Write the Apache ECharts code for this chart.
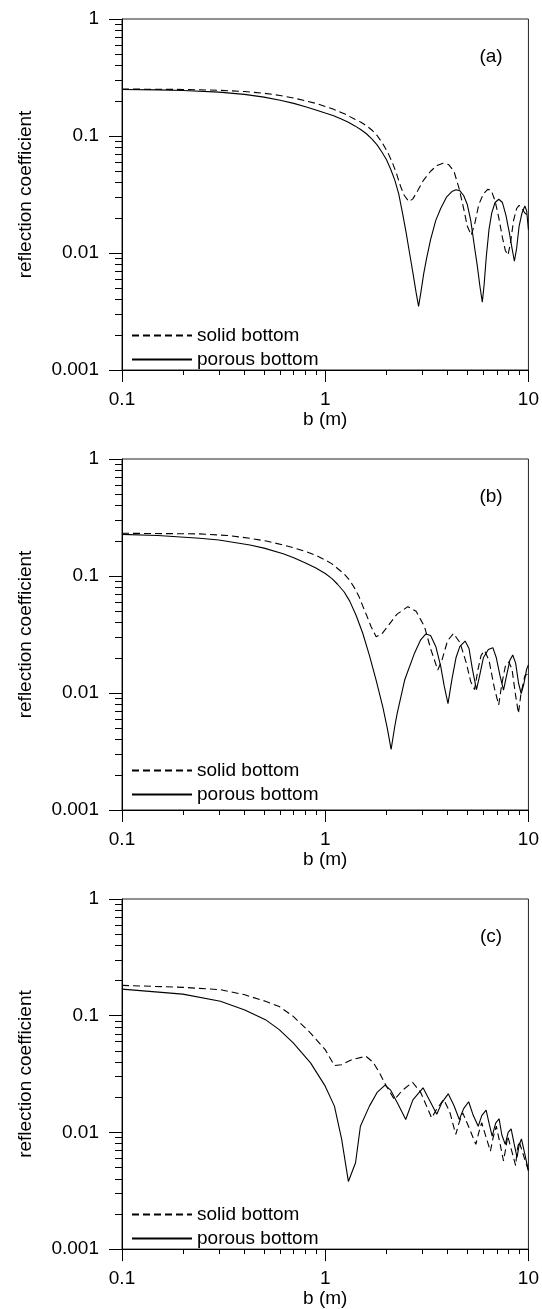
<!DOCTYPE html>
<html>
<head>
<meta charset="utf-8">
<script src="https://cdn.jsdelivr.net/npm/echarts@6/dist/echarts.min.js"></script>
<style>
html,body{margin:0;padding:0;background:#fff;}
#chart{width:542px;height:1309px;}
</style>
</head>
<body>
<div id="chart"></div>
<script>
// ---- tick values and labels ----
const xTickValues = [0.1, 1, 10];
const xTickLabels = ['0.1', '1', '10'];
const yTickValues = [0.001, 0.01, 0.1, 1];
const yTickLabels = ['0.001', '0.01', '0.1', '1'];
const xMinorTicks = [0.2,0.3,0.4,0.5,0.6,0.7,0.8,0.9,2,3,4,5,6,7,8,9];
const yMinorTicks = [0.002,0.003,0.004,0.005,0.006,0.007,0.008,0.009,
                     0.02,0.03,0.04,0.05,0.06,0.07,0.08,0.09,
                     0.2,0.3,0.4,0.5,0.6,0.7,0.8,0.9];
const panelLabels = ['(a)', '(b)', '(c)'];
const seriesNames = ['solid bottom', 'porous bottom'];
const xName = 'b (m)';
const yName = 'reflection coefficient';

// ---- data: [b (m), reflection coefficient] ----
const aSolidBottom = [[0.1,0.252],[0.2,0.25],[0.3,0.246],[0.4,0.24],[0.5,0.232],[0.6,0.222],[0.7,0.211],[0.8,0.2],[0.9,0.19],[1.0,0.179],[1.1,0.169],[1.25,0.154],[1.4,0.139],[1.5,0.131],[1.6,0.122],[1.7,0.112],[1.8,0.101],[1.92,0.086],[2.05,0.07],[2.15,0.058],[2.24,0.048],[2.35,0.037],[2.45,0.031],[2.58,0.0275],[2.7,0.029],[2.85,0.034],[3.05,0.042],[3.3,0.05],[3.55,0.056],[3.8,0.0585],[4.05,0.057],[4.3,0.05],[4.55,0.036],[4.8,0.024],[5.0,0.017],[5.23,0.0142],[5.45,0.018],[5.7,0.026],[6.0,0.032],[6.3,0.035],[6.55,0.0345],[6.85,0.028],[7.15,0.02],[7.45,0.0135],[7.7,0.0105],[7.93,0.0096],[8.15,0.012],[8.45,0.019],[8.75,0.024],[9.0,0.0255],[9.3,0.024],[9.6,0.022],[10,0.0205]];
const aPorousBottom = [[0.1,0.25],[0.15,0.248],[0.2,0.245],[0.3,0.237],[0.4,0.227],[0.5,0.215],[0.6,0.202],[0.7,0.19],[0.8,0.178],[0.9,0.167],[1.0,0.157],[1.1,0.149],[1.2,0.14],[1.3,0.131],[1.4,0.122],[1.5,0.113],[1.6,0.104],[1.7,0.094],[1.8,0.084],[1.9,0.073],[2.0,0.063],[2.1,0.052],[2.2,0.042],[2.3,0.032],[2.4,0.022],[2.5,0.015],[2.6,0.01],[2.7,0.0068],[2.8,0.0046],[2.88,0.0035],[2.95,0.0045],[3.05,0.0066],[3.15,0.0089],[3.3,0.013],[3.5,0.019],[3.7,0.024],[3.95,0.03],[4.2,0.0335],[4.4,0.0347],[4.6,0.034],[4.8,0.031],[5.0,0.026],[5.2,0.019],[5.4,0.012],[5.6,0.0078],[5.78,0.0051],[5.93,0.0038],[6.05,0.0053],[6.2,0.0092],[6.4,0.016],[6.6,0.022],[6.85,0.027],[7.15,0.0288],[7.45,0.027],[7.75,0.021],[8.05,0.015],[8.3,0.011],[8.53,0.0085],[8.75,0.011],[9.0,0.017],[9.3,0.022],[9.6,0.0252],[9.8,0.023],[10,0.0158]];
const bSolidBottom = [[0.1,0.232],[0.241,0.229],[0.33,0.222],[0.426,0.21],[0.52,0.198],[0.621,0.184],[0.7,0.174],[0.8,0.162],[0.9,0.15],[1.0,0.137],[1.08,0.127],[1.15,0.116],[1.24,0.104],[1.32,0.092],[1.4,0.078],[1.47,0.066],[1.53,0.0555],[1.6,0.046],[1.68,0.037],[1.78,0.0303],[1.9,0.032],[2.05,0.038],[2.25,0.047],[2.55,0.0547],[2.8,0.05],[3.08,0.0369],[3.3,0.024],[3.58,0.0157],[3.75,0.019],[4.0,0.028],[4.28,0.0323],[4.6,0.027],[4.95,0.018],[5.2,0.0125],[5.43,0.0107],[5.65,0.016],[5.85,0.021],[6.08,0.023],[6.4,0.019],[6.8,0.011],[7.14,0.0079],[7.4,0.012],[7.7,0.017],[8.0,0.0185],[8.3,0.016],[8.65,0.0095],[8.93,0.0067],[9.2,0.01],[9.6,0.014],[10,0.0147]];
const bPorousBottom = [[0.1,0.227],[0.15,0.222],[0.241,0.21],[0.3,0.203],[0.426,0.184],[0.5,0.173],[0.621,0.155],[0.7,0.143],[0.8,0.129],[0.9,0.117],[1.0,0.105],[1.08,0.095],[1.15,0.085],[1.24,0.073],[1.32,0.061],[1.42,0.046],[1.53,0.0324],[1.65,0.021],[1.78,0.0129],[1.92,0.0076],[2.02,0.005],[2.11,0.0033],[2.2,0.0052],[2.26,0.0067],[2.46,0.0129],[2.75,0.0219],[2.95,0.0285],[3.12,0.0319],[3.3,0.031],[3.5,0.025],[3.7,0.017],[3.85,0.0115],[4.02,0.0081],[4.2,0.013],[4.4,0.02],[4.6,0.025],[4.88,0.0278],[5.1,0.024],[5.3,0.016],[5.55,0.0107],[5.75,0.014],[6.0,0.02],[6.35,0.0235],[6.68,0.0244],[6.95,0.02],[7.25,0.014],[7.54,0.0106],[7.8,0.014],[8.1,0.019],[8.37,0.0211],[8.65,0.018],[8.95,0.012],[9.21,0.0099],[9.5,0.012],[9.8,0.016],[10,0.0174]];
const cSolidBottom = [[0.1,0.182],[0.199,0.175],[0.305,0.167],[0.402,0.151],[0.508,0.133],[0.594,0.12],[0.696,0.0987],[0.847,0.071],[1.0,0.0512],[1.11,0.0374],[1.2,0.038],[1.35,0.042],[1.585,0.0449],[1.72,0.04],[1.85,0.0324],[2.0,0.0249],[2.19,0.0191],[2.4,0.023],[2.69,0.0269],[2.95,0.022],[3.34,0.0133],[3.55,0.016],[3.83,0.0191],[4.1,0.015],[4.39,0.0096],[4.55,0.012],[4.75,0.0147],[5.1,0.011],[5.51,0.0079],[5.7,0.01],[5.89,0.0121],[6.2,0.009],[6.5,0.0069],[6.7,0.009],[6.95,0.0113],[7.25,0.008],[7.54,0.0057],[7.7,0.007],[7.91,0.0093],[8.3,0.0068],[8.65,0.0052],[8.8,0.007],[8.99,0.0084],[9.5,0.0062],[10,0.0047]];
const cPorousBottom = [[0.1,0.169],[0.199,0.153],[0.305,0.133],[0.402,0.112],[0.508,0.0925],[0.594,0.076],[0.696,0.0584],[0.847,0.0394],[1.0,0.0249],[1.11,0.0168],[1.205,0.0087],[1.3,0.0038],[1.41,0.0055],[1.49,0.0113],[1.65,0.0168],[1.8,0.022],[1.97,0.0254],[2.1,0.023],[2.3,0.017],[2.49,0.0129],[2.7,0.019],[3.03,0.0241],[3.25,0.019],[3.54,0.0143],[3.75,0.018],[4.03,0.0214],[4.3,0.017],[4.57,0.0129],[4.8,0.016],[5.08,0.0183],[5.35,0.014],[5.66,0.0113],[5.9,0.014],[6.19,0.0155],[6.4,0.012],[6.63,0.0093],[6.9,0.012],[7.17,0.0131],[7.4,0.0095],[7.69,0.0079],[7.95,0.01],[8.22,0.0107],[8.5,0.008],[8.79,0.0061],[9.0,0.0078],[9.24,0.0088],[9.6,0.0065],[10,0.0047]];

const panels = [
  {label: panelLabels[0], solid: aSolidBottom, porous: aPorousBottom},
  {label: panelLabels[1], solid: bSolidBottom, porous: bPorousBottom},
  {label: panelLabels[2], solid: cSolidBottom, porous: cPorousBottom}
];

// ---- layout ----
const FONT = '"Liberation Sans", Arial, sans-serif';
const gridTops = [19, 459, 899];
const legendTops = [326, 761, 1205];
const GL = 122, GW = 407, GH = 351;

function labelFor(values, labels) {
  return function (v) {
    let best = 0, bd = Infinity;
    values.forEach(function (t, i) {
      const d = Math.abs(Math.log10(v) - Math.log10(t));
      if (d < bd) { bd = d; best = i; }
    });
    return labels[best];
  };
}

const grid = [], xAxis = [], yAxis = [], series = [], legend = [], title = [];
panels.forEach(function (p, k) {
  grid.push({left: GL, top: gridTops[k], width: GW, height: GH, show: true,
    borderColor: '#222', borderWidth: 1, backgroundColor: 'transparent'});
  title.push({text: p.label, left: 491, top: gridTops[k] + 28, textAlign: 'center', padding: 0,
    textStyle: {fontFamily: FONT, fontSize: 19, fontWeight: 'normal', color: '#000'}});
  legend.push({orient: 'vertical', left: 131, top: legendTops[k], padding: 0,
    itemWidth: 60, itemHeight: 14, itemGap: 5,
    itemStyle: {opacity: 0},
    data: seriesNames,
    textStyle: {fontFamily: FONT, fontSize: 19, color: '#000'}});
});
// main axes
panels.forEach(function (p, k) {
  xAxis.push({type: 'log', logBase: 10, gridIndex: k, min: 0.1, max: 10,
    name: xName, nameLocation: 'middle', nameGap: 30,
    nameTextStyle: {fontFamily: FONT, fontSize: 19, color: '#000'},
    axisLine: {show: true, lineStyle: {color: '#000', width: 1}},
    axisTick: {show: true, inside: false, length: 12, customValues: xTickValues, lineStyle: {color: '#000'}},
    axisLabel: {show: true, margin: 20, customValues: xTickValues, formatter: labelFor(xTickValues, xTickLabels),
      fontFamily: FONT, fontSize: 19, color: '#000'},
    splitLine: {show: false}, minorTick: {show: false}});
  yAxis.push({type: 'log', logBase: 10, gridIndex: k, min: 0.001, max: 1,
    name: yName, nameLocation: 'middle', nameGap: 87,
    nameTextStyle: {fontFamily: FONT, fontSize: 19, color: '#000'},
    axisLine: {show: true, lineStyle: {color: '#000', width: 1}},
    axisTick: {show: true, inside: false, length: 13, customValues: yTickValues, lineStyle: {color: '#000'}},
    axisLabel: {show: true, margin: 23, customValues: yTickValues, formatter: labelFor(yTickValues, yTickLabels),
      fontFamily: FONT, fontSize: 19, color: '#000'},
    splitLine: {show: false}, minorTick: {show: false}});
});
// minor tick axes
panels.forEach(function (p, k) {
  xAxis.push({type: 'log', logBase: 10, gridIndex: k, min: 0.1, max: 10, position: 'bottom',
    axisLine: {show: false}, axisLabel: {show: false}, splitLine: {show: false},
    axisTick: {show: true, inside: false, length: 5, customValues: xMinorTicks, lineStyle: {color: '#000'}}});
  yAxis.push({type: 'log', logBase: 10, gridIndex: k, min: 0.001, max: 1, position: 'left',
    axisLine: {show: false}, axisLabel: {show: false}, splitLine: {show: false},
    axisTick: {show: true, inside: false, length: 7, customValues: yMinorTicks, lineStyle: {color: '#000'}}});
});
panels.forEach(function (p, k) {
  series.push({name: seriesNames[0], type: 'line', xAxisIndex: k, yAxisIndex: k, data: p.solid,
    showSymbol: false, symbol: 'none', smooth: false, clip: true,
    lineStyle: {color: '#000', width: 1.1, type: [7, 4]}, itemStyle: {color: '#000'}});
  series.push({name: seriesNames[1], type: 'line', xAxisIndex: k, yAxisIndex: k, data: p.porous,
    showSymbol: false, symbol: 'none', smooth: false, clip: true,
    lineStyle: {color: '#000', width: 1.1, type: 'solid'}, itemStyle: {color: '#000'}});
});

const chart = echarts.init(document.getElementById('chart'), null, {renderer: 'canvas'});
chart.setOption({
  animation: false,
  backgroundColor: '#fff',
  title: title, grid: grid, legend: legend,
  xAxis: xAxis, yAxis: yAxis, series: series
});
</script>
</body>
</html>
